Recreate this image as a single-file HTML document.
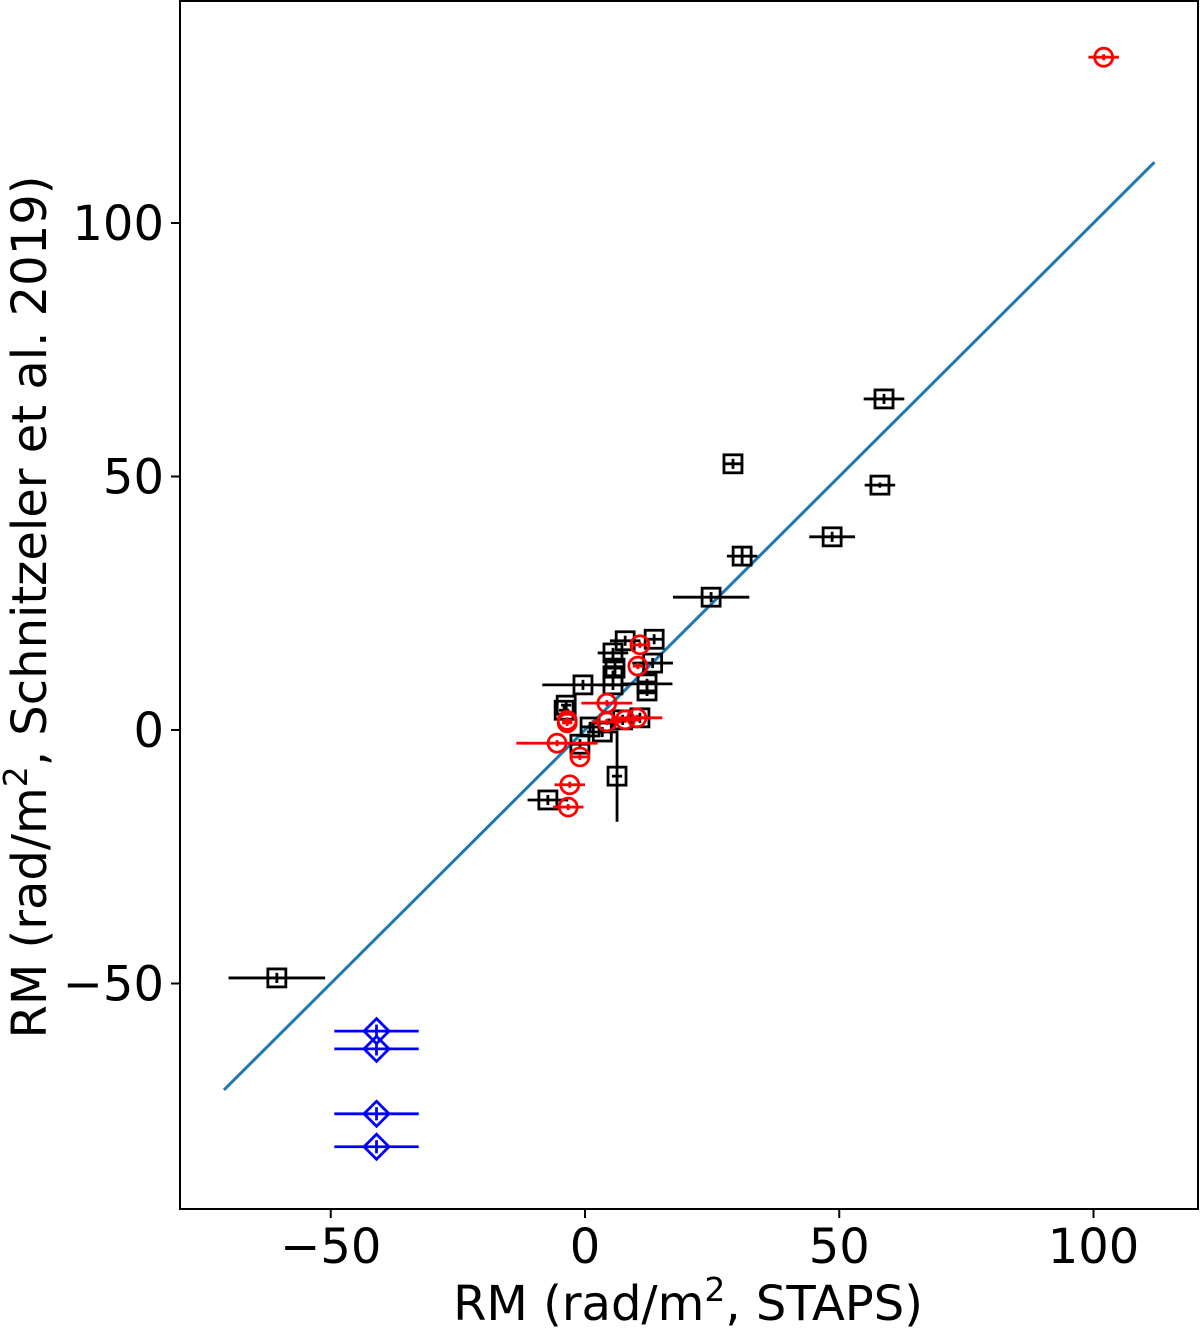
<!DOCTYPE html>
<html><head><meta charset="utf-8"><style>
body{margin:0;background:#fff}
svg text{font-family:"DejaVu Sans","Liberation Sans",sans-serif;fill:#000}
</style></head><body>
<svg id="chart" width="1200" height="1327" xmlns="http://www.w3.org/2000/svg">
<rect x="180" y="1" width="1018" height="1208" fill="none" stroke="#000" stroke-width="2"/>
<g id="ticks"></g>
<g id="marks"></g>
<text x="688" y="1320" font-size="48" text-anchor="middle">RM (rad/m<tspan dy="-19" font-size="33">2</tspan><tspan dy="19">, STAPS)</tspan></text>
<text transform="translate(46,607) rotate(-90)" font-size="48" text-anchor="middle">RM (rad/m<tspan dy="-19" font-size="33">2</tspan><tspan dy="19">, Schnitzeler et al. 2019)</tspan></text>
</svg>
<script>
const xTicks=[-50,0,50,100];
const yTicks=[-50,0,50,100];
const sqX=[-60.6,58.8,29.1,58,30.9,48.6,24.8,-7.3,6.3,7.9,13.6,5.5,5.9,5.5,12.2,-0.4,5.5,-3.7,-4.1,1.0,3.4,-1.0,7.4,10.8,13.3,12.2];
const sqY=[-48.9,65.3,52.5,48.3,34.3,38.1,26.2,-13.8,-9.1,17.6,17.9,15.2,12.2,10.7,9.1,8.9,8.9,4.9,3.9,0.6,-0.4,-2.8,2.0,2.4,13.2,7.7];
const sqXE=[9.5,4,2,3,3,4.5,7.5,4,1,3,2,3,2,2,5,8,3,1,1,2,3,2,3,2,4,2];
const sqYE=[1,1,1,0.5,2,1,1,1,9,1,1,1,2,1,1,1,1,1,1,1,1,1,1,1,1,1];
const ciX=[102,10.8,10.4,4.3,-3.5,-3.5,4.3,7.9,10.2,-5.5,-1.0,-3.0,-3.3];
const ciY=[132.7,16.8,12.6,5.3,1.9,1.4,1.6,2.0,2.4,-2.6,-5.3,-10.8,-15.2];
const ciXE=[3,1.5,1,5,1,1,3,3,5,8,2,3,3];
const diX=[-41,-41,-41,-41];
const diY=[-59.4,-62.9,-75.7,-82.2];
const diXE=[8.3,8.3,8.3,8.3];
const lineRange=[-71,112];
const NS="http://www.w3.org/2000/svg";
const X=v=>585+v*5.085, Y=v=>730-v*5.07;
function mk(tag,attrs,parent){const e=document.createElementNS(NS,tag);for(const k in attrs)e.setAttribute(k,attrs[k]);parent.appendChild(e);return e;}
const tg=document.getElementById('ticks'), mg=document.getElementById('marks');
xTicks.forEach(t=>{
 const l=mk('line',{x1:X(t),x2:X(t),y1:1209,y2:1218,stroke:'#000','stroke-width':2},tg);
 
 
 const s=mk('text',{x:X(t),y:1263,'font-size':48,'text-anchor':'middle'},tg);s.textContent=(t<0?'\u2212':'')+Math.abs(t);
 
 
});
yTicks.forEach(t=>{
 const l=mk('line',{x1:171,x2:180,y1:Y(t),y2:Y(t),stroke:'#000','stroke-width':2},tg);
 
 
 const s=mk('text',{x:164,y:Y(t)+17,'font-size':48,'text-anchor':'end'},tg);s.textContent=(t<0?'\u2212':'')+Math.abs(t);
 
 
});
const ln=mk('line',{x1:X(lineRange[0]),y1:Y(lineRange[0]),x2:X(lineRange[1]),y2:Y(lineRange[1]),stroke:'#1f77b4','stroke-width':3},mg);


function err(x,y,xe,ye,c){
 mk('line',{x1:X(x-xe),x2:X(x+xe),y1:Y(y),y2:Y(y),stroke:c,'stroke-width':2.8},mg);
 if(ye)mk('line',{x1:X(x),x2:X(x),y1:Y(y-ye),y2:Y(y+ye),stroke:c,'stroke-width':2.8},mg);
}
sqX.forEach((x,i)=>{
 err(x,sqY[i],sqXE[i],sqYE[i],'#000');
 const r=mk('rect',{x:X(x)-9,y:Y(sqY[i])-9,width:18,height:18,fill:'none',stroke:'#000','stroke-width':2.8},mg);
 
 
});
ciX.forEach((x,i)=>{
 err(x,ciY[i],ciXE[i],0.6,'#f00');
 const c=mk('circle',{cx:X(x),cy:Y(ciY[i]),r:9,fill:'none',stroke:'#f00','stroke-width':2.8},mg);
 
 
});
diX.forEach((x,i)=>{
 err(x,diY[i],diXE[i],1.3,'#00f');
 const cx=X(x),cy=Y(diY[i]);
 const p=mk('polygon',{points:`${cx},${cy-12.5} ${cx+12.5},${cy} ${cx},${cy+12.5} ${cx-12.5},${cy}`,fill:'none',stroke:'#00f','stroke-width':2.8},mg);
 
 
});
</script>
</body></html>
